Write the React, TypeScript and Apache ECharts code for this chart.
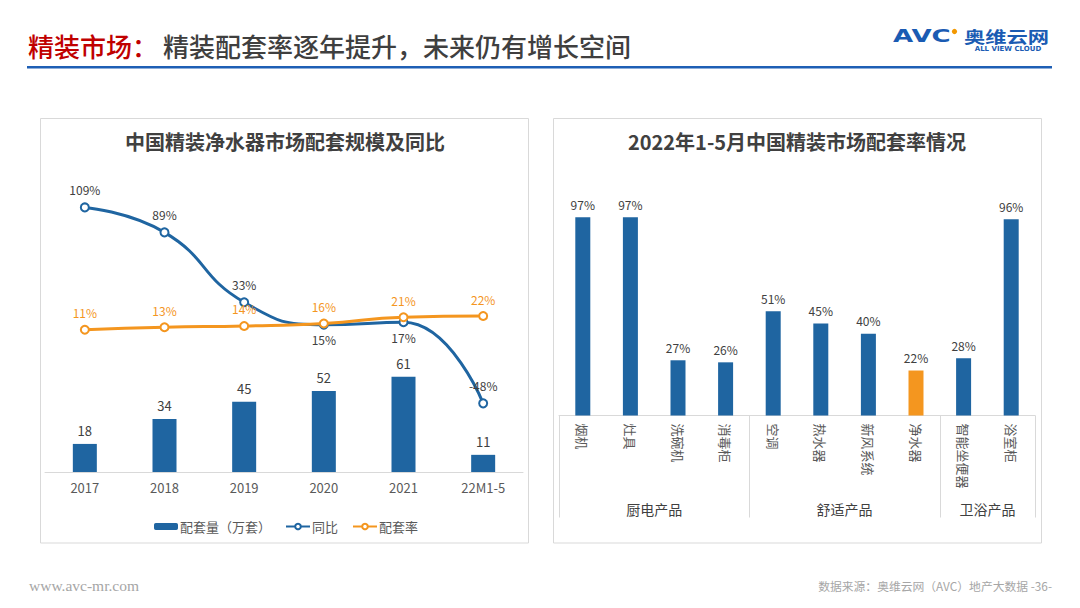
import React, { useEffect, useRef } from 'react';
import * as echarts from 'echarts';

// ---- data ----
const years = ['2017', '2018', '2019', '2020', '2021', '22M1-5'];
const volume = [18, 34, 45, 52, 61, 11];
const yoy = [109, 89, 33, 15, 17, -48];
const rate = [11, 13, 14, 16, 21, 22];

const products = ['烟机', '灶具', '洗碗机', '消毒柜', '空调', '热水器', '新风系统', '净水器', '智能坐便器', '浴室柜'];
const productRates = [97, 97, 27, 26, 51, 45, 40, 22, 28, 96];
const groupNames = ['厨电产品', '舒适产品', '卫浴产品'];
const groupSizes = [4, 4, 2];
const highlight = '净水器';

const legendNames = ['配套量（万套）', '同比', '配套率'];

// ---- styles ----
const BLUE = '#1f65a1';
const ORANGE = '#f4961f';
const TEXT = '#404040';
const AXIS = '#595959';
const BORDER = '#d9d9d9';
const FONT = '"Noto Sans CJK SC", "Noto Sans", sans-serif';
const yoyLabelBelow = [3, 4];

function buildOption() {
  const n = products.length;
  const groupAxisData: string[] = [];
  for (let i = 0; i <= n * 2; i++) groupAxisData.push('');
  const boundaries = new Set<number>();
  let s = 0;
  groupNames.forEach((g, gi) => {
    boundaries.add(s * 2);
    groupAxisData[s * 2 + groupSizes[gi]] = g;
    s += groupSizes[gi];
  });
  boundaries.add(s * 2);

  return {
    animation: false,
    textStyle: { fontFamily: FONT },
    legend: {
      data: legendNames,
      left: 154,
      top: 520,
      padding: 0,
      itemWidth: 24,
      itemHeight: 7,
      itemGap: 14,
      textStyle: { color: AXIS, fontSize: 13, fontFamily: FONT, padding: [0, 0, 0, -3] },
    },
    grid: [
      { left: 45, top: 160, width: 478, height: 312 },
      { left: 559, top: 211, width: 476, height: 204.5 },
    ],
    xAxis: [
      {
        type: 'category',
        gridIndex: 0,
        position: 'bottom',
        data: years,
        axisLine: { lineStyle: { color: BORDER, width: 1 } },
        axisTick: { show: false },
        axisLabel: { color: AXIS, fontSize: 13, margin: 9 },
      },
      {
        type: 'category',
        gridIndex: 1,
        position: 'bottom',
        data: products,
        axisLine: { lineStyle: { color: BORDER, width: 1 } },
        axisTick: { show: false },
        axisLabel: { color: AXIS, fontSize: 13, rotate: -90, margin: 8, interval: 0 },
      },
      {
        type: 'category',
        gridIndex: 1,
        position: 'bottom',
        offset: 0,
        data: groupAxisData,
        boundaryGap: false,
        axisLine: { show: false },
        axisTick: {
          show: true,
          length: 102,
          interval: (i: number) => boundaries.has(i),
          lineStyle: { color: BORDER, width: 1 },
        },
        axisLabel: {
          color: TEXT,
          fontSize: 14,
          margin: 86,
          interval: (i: number, v: string) => v !== '',
        },
      },
    ],
    yAxis: [
      { type: 'value', gridIndex: 0, min: 0, max: 200, show: false, splitLine: { show: false } },
      { type: 'value', gridIndex: 0, min: -103, max: 147, show: false, splitLine: { show: false } },
      { type: 'value', gridIndex: 1, min: 0, max: 100, show: false, splitLine: { show: false } },
    ],
    series: [
      {
        name: legendNames[0],
        type: 'bar',
        xAxisIndex: 0,
        yAxisIndex: 0,
        data: volume,
        barWidth: 24,
        itemStyle: { color: BLUE },
        label: { show: true, position: 'top', distance: 7, color: TEXT, fontSize: 13 },
      },
      {
        name: legendNames[1],
        type: 'line',
        xAxisIndex: 0,
        yAxisIndex: 1,
        smooth: true,
        data: yoy.map((v, i) => ({
          value: v,
          label: yoyLabelBelow.includes(i) ? { position: 'bottom', distance: 4 } : undefined,
        })),
        symbol: 'emptyCircle',
        symbolSize: 8,
        lineStyle: { color: BLUE, width: 3 },
        itemStyle: { color: BLUE, borderWidth: 1.5 },
        label: { show: true, position: 'top', distance: 7, color: TEXT, fontSize: 12, formatter: '{c}%' },
        z: 3,
      },
      {
        name: legendNames[2],
        type: 'line',
        xAxisIndex: 0,
        yAxisIndex: 1,
        smooth: true,
        data: rate,
        symbol: 'emptyCircle',
        symbolSize: 8,
        lineStyle: { color: ORANGE, width: 3 },
        itemStyle: { color: ORANGE, borderWidth: 1.5 },
        label: { show: true, position: 'top', distance: 6, color: ORANGE, fontSize: 12, formatter: '{c}%' },
        z: 4,
      },
      {
        name: '配套率情况',
        type: 'bar',
        xAxisIndex: 1,
        yAxisIndex: 2,
        barWidth: 15,
        data: productRates.map((v, i) => ({
          value: v,
          itemStyle: { color: products[i] === highlight ? ORANGE : BLUE },
        })),
        label: { show: true, position: 'top', distance: 7, color: TEXT, fontSize: 12, formatter: '{c}%' },
      },
    ],
    graphic: [
      {
        type: 'text', x: 28, y: 45,
        style: { text: '精装市场：', fill: '#c00000', fontSize: 26, fontWeight: 500, fontFamily: FONT, textVerticalAlign: 'middle' },
      },
      {
        type: 'text', x: 163, y: 45,
        style: { text: '精装配套率逐年提升，未来仍有增长空间', fill: '#3f3f3f', fontSize: 26, fontWeight: 500, fontFamily: FONT, textVerticalAlign: 'middle' },
      },
      { type: 'rect', shape: { x: 27, y: 66, width: 1025, height: 2.5 }, style: { fill: '#1e5fb5' } },
      {
        type: 'text', x: 893, y: 36, scaleX: 1.45,
        style: { text: 'AVC', fill: '#1a5bb3', fontSize: 18, fontWeight: 'bold', fontFamily: 'DejaVu Sans', textVerticalAlign: 'middle' },
      },
      { type: 'circle', shape: { cx: 954.5, cy: 31.5, r: 2.6 }, style: { fill: '#f39800' } },
      {
        type: 'text', x: 964, y: 35.5, scaleX: 1.33,
        style: { text: '奥维云网', fill: '#1a5bb3', fontSize: 16, fontWeight: 'bold', fontFamily: FONT, textVerticalAlign: 'middle' },
      },
      {
        type: 'text', x: 1008, y: 49,
        style: { text: 'ALL VIEW CLOUD', fill: '#1a5bb3', fontSize: 7, fontWeight: 'bold', fontFamily: 'DejaVu Sans', textAlign: 'center', textVerticalAlign: 'middle' },
      },
      { type: 'rect', shape: { x: 40.5, y: 118.5, width: 488, height: 424.5 }, style: { fill: 'none', stroke: BORDER, lineWidth: 1 }, z: -1 },
      { type: 'rect', shape: { x: 553.5, y: 118.5, width: 488, height: 424.5 }, style: { fill: 'none', stroke: BORDER, lineWidth: 1 }, z: -1 },
      {
        type: 'text', x: 285, y: 141,
        style: { text: '中国精装净水器市场配套规模及同比', fill: TEXT, fontSize: 20, fontWeight: 'bold', fontFamily: FONT, textAlign: 'center', textVerticalAlign: 'middle' },
      },
      {
        type: 'text', x: 797, y: 141,
        style: { text: '2022年1-5月中国精装市场配套率情况', fill: TEXT, fontSize: 20, fontWeight: 'bold', fontFamily: FONT, textAlign: 'center', textVerticalAlign: 'middle' },
      },
      {
        type: 'text', x: 29, y: 585,
        style: { text: 'www.avc-mr.com', fill: '#a6a6a6', fontSize: 15.5, fontFamily: '"Liberation Serif", serif', textVerticalAlign: 'middle' },
      },
      {
        type: 'text', x: 1052, y: 585,
        style: { text: '数据来源：奥维云网（AVC）地产大数据 -36-', fill: '#a6a6a6', fontSize: 11.8, fontFamily: FONT, textAlign: 'right', textVerticalAlign: 'middle' },
      },
    ],
  };
}

export default function App() {
  const ref = useRef<HTMLDivElement>(null);
  useEffect(() => {
    if (!ref.current) return;
    const chart = echarts.init(ref.current, undefined, { renderer: 'svg' });
    chart.setOption(buildOption() as any);
    return () => chart.dispose();
  }, []);
  return (
    <div
      ref={ref}
      style={{ position: 'absolute', left: 0, top: 0, width: 1080, height: 608, background: '#fff' }}
    />
  );
}
